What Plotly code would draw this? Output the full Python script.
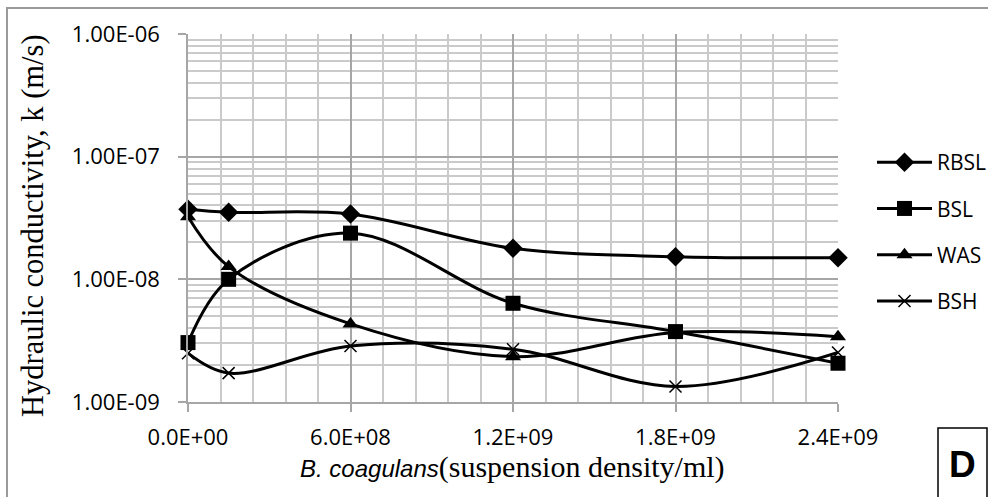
import plotly.graph_objects as go

# ---- data ----
density = [0, 1.5e8, 6e8, 1.2e9, 1.8e9, 2.4e9]
rbsl = [3.73e-8, 3.52e-8, 3.41e-8, 1.79e-8, 1.53e-8, 1.50e-8]
bsl = [3.05e-9, 1.00e-8, 2.38e-8, 6.38e-9, 3.75e-9, 2.07e-9]
was = [3.24e-8, 1.27e-8, 4.33e-9, 2.34e-9, 3.68e-9, 3.41e-9]
bsh = [2.50e-9, 1.72e-9, 2.86e-9, 2.69e-9, 1.34e-9, 2.53e-9]

series_names = ["RBSL", "BSL", "WAS", "BSH"]
series_values = [rbsl, bsl, was, bsh]
symbols = ["diamond", "square", "triangle-up", "x-thin-open"]
sizes = [15, 15, 14, 12]

y_tickvals = [1e-9, 1e-8, 1e-7, 1e-6]
y_ticktext = ["1.00E-09", "1.00E-08", "1.00E-07", "1.00E-06"]
x_tickvals = [0, 6e8, 1.2e9, 1.8e9, 2.4e9]
x_ticktext = ["0.0E+00", "6.0E+08", "1.2E+09", "1.8E+09", "2.4E+09"]

# ---- layout geometry (pixels) ----
W, H = 988, 497
L, R, T, B = 188, 150, 34, 95
PW, PH = W - L - R, H - T - B


def px(x):
    return (x - L) / PW


def py(y):
    return (H - B - y) / PH


fig = go.Figure()
for i, (name, vals, sym, sz) in enumerate(zip(series_names, series_values, symbols, sizes)):
    marker = dict(symbol=sym, size=sz, color="black")
    if sym.startswith("x-thin"):
        marker["line"] = dict(color="black", width=1.5)
    fig.add_trace(go.Scatter(
        x=density, y=vals, name=name, mode="lines+markers",
        line=dict(color="black", width=3, shape="spline", smoothing=1.0),
        marker=marker, cliponaxis=False, legendgroup=name,
    ))

grid_major = "#a6a6a6"
grid_minor = "#cacaca"

fig.update_xaxes(
    range=[0, 2.4e9], tickvals=x_tickvals, ticktext=x_ticktext,
    showgrid=True, gridcolor=grid_major, gridwidth=1.5,
    minor=dict(dtick=1.2e8, tick0=0, showgrid=True, gridcolor=grid_minor, gridwidth=1.5, ticklen=0),
    ticks="outside", ticklen=8, tickcolor=grid_major, tickwidth=1.5,
    showline=True, linecolor=grid_major, linewidth=1.5,
    zeroline=False, ticklabelstandoff=7,
    tickfont=dict(family="Open Sans", size=22, color="black"),
)
fig.update_yaxes(
    type="log", range=[-9, -6], tickvals=y_tickvals, ticktext=y_ticktext,
    showgrid=True, gridcolor=grid_major, gridwidth=1.5,
    minor=dict(dtick="D1", showgrid=True, gridcolor=grid_minor, gridwidth=1.5, ticklen=0),
    ticks="outside", ticklen=8, tickcolor=grid_major, tickwidth=1.5,
    showline=True, linecolor=grid_major, linewidth=1.5, mirror=False,
    zeroline=False, ticklabelstandoff=14,
    tickfont=dict(family="Open Sans", size=22, color="black"),
)

fig.update_layout(
    width=W, height=H,
    margin=dict(l=L, r=R, t=T, b=B, autoexpand=False),
    plot_bgcolor="white", paper_bgcolor="white",
    showlegend=True,
    legend=dict(x=px(872), y=py(142), xanchor="left", yanchor="top",
                font=dict(family="Open Sans", size=21, color="black"),
                itemwidth=55, tracegroupgap=16, bgcolor="rgba(0,0,0,0)"),
    shapes=[
        dict(type="rect", xref="paper", yref="paper",
             x0=px(7), x1=px(995), y0=py(505), y1=py(8),
             line=dict(color="#9a9a9a", width=2), layer="below"),
        dict(type="rect", xref="paper", yref="paper",
             x0=px(938), x1=px(987), y0=py(505), y1=py(428),
             line=dict(color="black", width=1.5)),
    ],
    annotations=[
        dict(text="<b>D</b>", xref="paper", yref="paper", x=px(962), y=py(464),
             showarrow=False, xanchor="center", yanchor="middle",
             font=dict(family="Liberation Sans", size=37, color="black")),
        dict(text='<i>B. coagulans</i>'
                  '<span style="font-family:Liberation Serif;font-size:30px">(suspension density/ml)</span>',
             xref="paper", yref="paper", x=px(512), y=py(467),
             showarrow=False, xanchor="center", yanchor="middle",
             font=dict(family="Liberation Sans", size=24, color="black")),
        dict(text="Hydraulic conductivity, k (m/s)", textangle=-90,
             xref="paper", yref="paper", x=px(33), y=py(226),
             showarrow=False, xanchor="center", yanchor="middle",
             font=dict(family="Liberation Serif", size=30.5, color="black")),
    ],
)

fig.write_html("out.html", config={"displayModeBar": False},
               post_script="document.body.style.margin='0';")
